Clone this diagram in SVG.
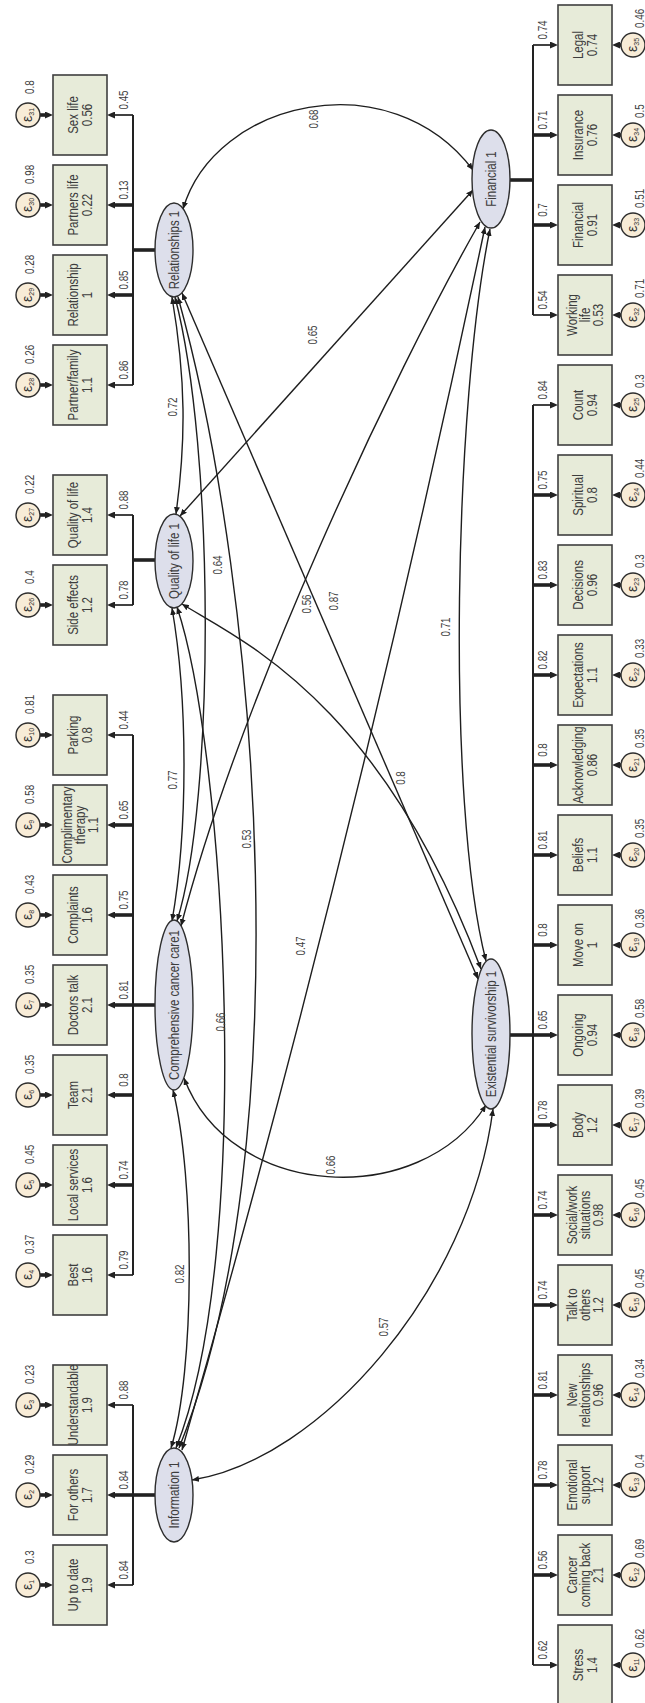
<svg xmlns="http://www.w3.org/2000/svg" width="645" height="1703" viewBox="0 0 645 1703">
<style>
text{font-family:"Liberation Sans",Arial,Helvetica,sans-serif;fill:#3d3d3d;text-anchor:middle}
.box{fill:#e7ebd9;stroke:#3f3f3f;stroke-width:1.6}
.lat{fill:#dddfeb;stroke:#2e2e2e;stroke-width:1.4}
.err{fill:#f8ecd7;stroke:#2e2e2e;stroke-width:1.4}
.lbl{font-size:14px}
.num{font-size:12px}
.ev{font-size:12px;text-anchor:start}
.eps{font-size:14px;fill:#333}
.sub{font-size:7px}
.bus{fill:none;stroke:#222;stroke-width:2}
.thin{fill:none;stroke:#222;stroke-width:1.7;marker-end:url(#ah)}
.thick{fill:none;stroke:#222;stroke-width:3.6;marker-end:url(#ah)}
.stub{fill:none;stroke:#222;stroke-width:3.6}
.cov{fill:none;stroke:#1e1e1e;stroke-width:1.4;marker-start:url(#ch);marker-end:url(#ch)}
</style>
<defs>
<marker id="ah" markerUnits="userSpaceOnUse" viewBox="0 0 8 7" markerWidth="8" markerHeight="7" refX="3" refY="3.5" orient="auto"><path d="M0,0L8,3.5L0,7Z" fill="#222"/></marker>
<marker id="ch" markerUnits="userSpaceOnUse" viewBox="0 0 7 6" markerWidth="7" markerHeight="6" refX="7" refY="3" orient="auto-start-reverse"><path d="M0,0L7,3L0,6Z" fill="#1e1e1e"/></marker>
</defs>
<rect width="645" height="1703" fill="#fff"/>

<!-- covariances between latent variables -->
<g id="covariances">
<path class="cov" d="M183,209C215,100 390,60 473,170"/>
<path class="cov" d="M172,297C186,380 186,440 176,514"/>
<path class="cov" d="M175,297C215,450 215,800 177,921"/>
<path class="cov" d="M178,297C262,600 300,1150 179,1448"/>
<path class="cov" d="M182,293L478,979"/>
<path class="cov" d="M180,516L473,190"/>
<path class="cov" d="M172,608C188,700 188,830 172,921"/>
<path class="cov" d="M177,607C225,750 255,1250 176,1448"/>
<path class="cov" d="M182,604C240,640 380,700 481,969"/>
<path class="cov" d="M181,926C240,700 390,380 480,222"/>
<path class="cov" d="M173,1090C195,1180 195,1370 171,1448"/>
<path class="cov" d="M184,1078C230,1200 420,1210 486,1105"/>
<path class="cov" d="M182,1450C300,1040 400,630 485,227"/>
<path class="cov" d="M192,1480C320,1460 470,1290 493,1109"/>
<path class="cov" d="M490,229C455,400 445,800 486,961"/>
<g class="num">
<text transform="translate(313,119) rotate(-90) scale(.82,1)" y="4.5">0.68</text>
<text transform="translate(312,335) rotate(-90) scale(.82,1)" y="4.5">0.65</text>
<text transform="translate(172,407) rotate(-90) scale(.82,1)" y="4.5">0.72</text>
<text transform="translate(217,565) rotate(-90) scale(.82,1)" y="4.5">0.64</text>
<text transform="translate(306,604) rotate(-90) scale(.82,1)" y="4.5">0.56</text>
<text transform="translate(333,601) rotate(-90) scale(.82,1)" y="4.5">0.87</text>
<text transform="translate(445,627) rotate(-90) scale(.82,1)" y="4.5">0.71</text>
<text transform="translate(172,780) rotate(-90) scale(.82,1)" y="4.5">0.77</text>
<text transform="translate(400,778) rotate(-90) scale(.82,1)" y="4.5">0.8</text>
<text transform="translate(246,839) rotate(-90) scale(.82,1)" y="4.5">0.53</text>
<text transform="translate(300,946) rotate(-90) scale(.82,1)" y="4.5">0.47</text>
<text transform="translate(220,1022) rotate(-90) scale(.82,1)" y="4.5">0.66</text>
<text transform="translate(330,1165) rotate(-90) scale(.82,1)" y="4.5">0.66</text>
<text transform="translate(179,1274) rotate(-90) scale(.82,1)" y="4.5">0.82</text>
<text transform="translate(383,1327) rotate(-90) scale(.82,1)" y="4.5">0.57</text>
</g>
</g>

<!-- measurement paths: latent to indicators, errors to indicators -->
<g id="loadings">
<path class="stub" d="M155,250H132"/>
<path class="bus" d="M133,115V385"/>
<path class="thin" d="M133,115H112"/>
<path class="thick" d="M133,205H112"/>
<path class="thick" d="M133,295H112"/>
<path class="thin" d="M133,385H112"/>

<path class="stub" d="M155,560H132"/>
<path class="bus" d="M133,515V605"/>
<path class="thin" d="M133,515H112"/>
<path class="thin" d="M133,605H112"/>

<path class="stub" d="M155,1005H132"/>
<path class="bus" d="M133,735V1275"/>
<path class="thin" d="M133,735H112"/>
<path class="thick" d="M133,825H112"/>
<path class="thick" d="M133,915H112"/>
<path class="thick" d="M133,1005H112"/>
<path class="thick" d="M133,1095H112"/>
<path class="thick" d="M133,1185H112"/>
<path class="thin" d="M133,1275H112"/>

<path class="stub" d="M155,1495H132"/>
<path class="bus" d="M133,1405V1585"/>
<path class="thin" d="M133,1405H112"/>
<path class="thick" d="M133,1495H112"/>
<path class="thin" d="M133,1585H112"/>

<path class="stub" d="M510,180H534"/>
<path class="bus" d="M533,45V315"/>
<path class="thin" d="M533,45H553"/>
<path class="thick" d="M533,135H553"/>
<path class="thick" d="M533,225H553"/>
<path class="thin" d="M533,315H553"/>

<path class="stub" d="M510,1035H534"/>
<path class="bus" d="M533,405V1665"/>
<path class="thin" d="M533,405H553"/>
<path class="thick" d="M533,495H553"/>
<path class="thick" d="M533,585H553"/>
<path class="thick" d="M533,675H553"/>
<path class="thick" d="M533,765H553"/>
<path class="thick" d="M533,855H553"/>
<path class="thick" d="M533,945H553"/>
<path class="thick" d="M533,1035H553"/>
<path class="thick" d="M533,1125H553"/>
<path class="thick" d="M533,1215H553"/>
<path class="thick" d="M533,1305H553"/>
<path class="thick" d="M533,1395H553"/>
<path class="thick" d="M533,1485H553"/>
<path class="thick" d="M533,1575H553"/>
<path class="thin" d="M533,1665H553"/>

<!-- error arrows, left column -->
<path class="thick" d="M40,115H48"/><path class="thick" d="M40,205H48"/><path class="thick" d="M40,295H48"/><path class="thick" d="M40,385H48"/>
<path class="thick" d="M40,515H48"/><path class="thick" d="M40,605H48"/>
<path class="thick" d="M40,735H48"/><path class="thick" d="M40,825H48"/><path class="thick" d="M40,915H48"/><path class="thick" d="M40,1005H48"/><path class="thick" d="M40,1095H48"/><path class="thick" d="M40,1185H48"/><path class="thick" d="M40,1275H48"/>
<path class="thick" d="M40,1405H48"/><path class="thick" d="M40,1495H48"/><path class="thick" d="M40,1585H48"/>
<!-- error arrows, right column -->
<path class="thick" d="M621,45H617"/><path class="thick" d="M621,135H617"/><path class="thick" d="M621,225H617"/><path class="thick" d="M621,315H617"/>
<path class="thick" d="M621,405H617"/><path class="thick" d="M621,495H617"/><path class="thick" d="M621,585H617"/><path class="thick" d="M621,675H617"/>
<path class="thick" d="M621,765H617"/><path class="thick" d="M621,855H617"/><path class="thick" d="M621,945H617"/><path class="thick" d="M621,1035H617"/>
<path class="thick" d="M621,1125H617"/><path class="thick" d="M621,1215H617"/><path class="thick" d="M621,1305H617"/><path class="thick" d="M621,1395H617"/>
<path class="thick" d="M621,1485H617"/><path class="thick" d="M621,1575H617"/><path class="thick" d="M621,1665H617"/>

<g class="num">
<text transform="translate(123,100) rotate(-90) scale(.82,1)" y="4.5">0.45</text>
<text transform="translate(123,190) rotate(-90) scale(.82,1)" y="4.5">0.13</text>
<text transform="translate(123,280) rotate(-90) scale(.82,1)" y="4.5">0.85</text>
<text transform="translate(123,370) rotate(-90) scale(.82,1)" y="4.5">0.86</text>
<text transform="translate(123,500) rotate(-90) scale(.82,1)" y="4.5">0.88</text>
<text transform="translate(123,590) rotate(-90) scale(.82,1)" y="4.5">0.78</text>
<text transform="translate(123,720) rotate(-90) scale(.82,1)" y="4.5">0.44</text>
<text transform="translate(123,810) rotate(-90) scale(.82,1)" y="4.5">0.65</text>
<text transform="translate(123,900) rotate(-90) scale(.82,1)" y="4.5">0.75</text>
<text transform="translate(123,990) rotate(-90) scale(.82,1)" y="4.5">0.81</text>
<text transform="translate(123,1080) rotate(-90) scale(.82,1)" y="4.5">0.8</text>
<text transform="translate(123,1170) rotate(-90) scale(.82,1)" y="4.5">0.74</text>
<text transform="translate(123,1260) rotate(-90) scale(.82,1)" y="4.5">0.79</text>
<text transform="translate(123,1390) rotate(-90) scale(.82,1)" y="4.5">0.88</text>
<text transform="translate(123,1480) rotate(-90) scale(.82,1)" y="4.5">0.84</text>
<text transform="translate(123,1570) rotate(-90) scale(.82,1)" y="4.5">0.84</text>

<text transform="translate(542,30) rotate(-90) scale(.82,1)" y="4.5">0.74</text>
<text transform="translate(542,120) rotate(-90) scale(.82,1)" y="4.5">0.71</text>
<text transform="translate(542,210) rotate(-90) scale(.82,1)" y="4.5">0.7</text>
<text transform="translate(542,300) rotate(-90) scale(.82,1)" y="4.5">0.54</text>
<text transform="translate(542,390) rotate(-90) scale(.82,1)" y="4.5">0.84</text>
<text transform="translate(542,480) rotate(-90) scale(.82,1)" y="4.5">0.75</text>
<text transform="translate(542,570) rotate(-90) scale(.82,1)" y="4.5">0.83</text>
<text transform="translate(542,660) rotate(-90) scale(.82,1)" y="4.5">0.82</text>
<text transform="translate(542,750) rotate(-90) scale(.82,1)" y="4.5">0.8</text>
<text transform="translate(542,840) rotate(-90) scale(.82,1)" y="4.5">0.81</text>
<text transform="translate(542,930) rotate(-90) scale(.82,1)" y="4.5">0.8</text>
<text transform="translate(542,1020) rotate(-90) scale(.82,1)" y="4.5">0.65</text>
<text transform="translate(542,1110) rotate(-90) scale(.82,1)" y="4.5">0.78</text>
<text transform="translate(542,1200) rotate(-90) scale(.82,1)" y="4.5">0.74</text>
<text transform="translate(542,1290) rotate(-90) scale(.82,1)" y="4.5">0.74</text>
<text transform="translate(542,1380) rotate(-90) scale(.82,1)" y="4.5">0.81</text>
<text transform="translate(542,1470) rotate(-90) scale(.82,1)" y="4.5">0.78</text>
<text transform="translate(542,1560) rotate(-90) scale(.82,1)" y="4.5">0.56</text>
<text transform="translate(542,1650) rotate(-90) scale(.82,1)" y="4.5">0.62</text>
</g>
</g>

<!-- latent variables -->
<g id="lat-relationships"><ellipse class="lat" cx="174" cy="250" rx="19" ry="47"/><text class="lbl" transform="translate(174,250) rotate(-90) scale(.82,1)" y="5">Relationships 1</text></g>
<g id="lat-quality"><ellipse class="lat" cx="174" cy="561" rx="19" ry="47"/><text class="lbl" transform="translate(174,561) rotate(-90) scale(.82,1)" y="5">Quality of life 1</text></g>
<g id="lat-comprehensive"><ellipse class="lat" cx="174" cy="1005" rx="19" ry="85"/><text class="lbl" transform="translate(174,1005) rotate(-90) scale(.82,1)" y="5">Comprehensive cancer care1</text></g>
<g id="lat-information"><ellipse class="lat" cx="174" cy="1495" rx="19" ry="47"/><text class="lbl" transform="translate(174,1495) rotate(-90) scale(.82,1)" y="5">Information 1</text></g>
<g id="lat-financial"><ellipse class="lat" cx="491" cy="179" rx="19" ry="49"/><text class="lbl" transform="translate(491,179) rotate(-90) scale(.82,1)" y="5">Financial 1</text></g>
<g id="lat-existential"><ellipse class="lat" cx="491" cy="1034" rx="19" ry="75"/><text class="lbl" transform="translate(491,1034) rotate(-90) scale(.82,1)" y="5">Existential survivorship 1</text></g>

<!-- observed indicators, left column -->
<g id="ind-sexlife"><rect class="box" x="53" y="75" width="54" height="80"/><text class="lbl" transform="translate(80,115) rotate(-90) scale(.82,1)"><tspan x="0" y="-2">Sex life</tspan><tspan x="0" y="12">0.56</tspan></text></g>
<g id="ind-partnerslife"><rect class="box" x="53" y="165" width="54" height="80"/><text class="lbl" transform="translate(80,205) rotate(-90) scale(.82,1)"><tspan x="0" y="-2">Partners life</tspan><tspan x="0" y="12">0.22</tspan></text></g>
<g id="ind-relationship"><rect class="box" x="53" y="255" width="54" height="80"/><text class="lbl" transform="translate(80,295) rotate(-90) scale(.82,1)"><tspan x="0" y="-2">Relationship</tspan><tspan x="0" y="12">1</tspan></text></g>
<g id="ind-partnerfamily"><rect class="box" x="53" y="345" width="54" height="80"/><text class="lbl" transform="translate(80,385) rotate(-90) scale(.82,1)"><tspan x="0" y="-2">Partner/family</tspan><tspan x="0" y="12">1.1</tspan></text></g>
<g id="ind-qualityoflife"><rect class="box" x="53" y="475" width="54" height="80"/><text class="lbl" transform="translate(80,515) rotate(-90) scale(.82,1)"><tspan x="0" y="-2">Quality of life</tspan><tspan x="0" y="12">1.4</tspan></text></g>
<g id="ind-sideeffects"><rect class="box" x="53" y="565" width="54" height="80"/><text class="lbl" transform="translate(80,605) rotate(-90) scale(.82,1)"><tspan x="0" y="-2">Side effects</tspan><tspan x="0" y="12">1.2</tspan></text></g>
<g id="ind-parking"><rect class="box" x="53" y="695" width="54" height="80"/><text class="lbl" transform="translate(80,735) rotate(-90) scale(.82,1)"><tspan x="0" y="-2">Parking</tspan><tspan x="0" y="12">0.8</tspan></text></g>
<g id="ind-complimentary"><rect class="box" x="53" y="785" width="54" height="80"/><text class="lbl" transform="translate(80,825) rotate(-90) scale(.82,1)"><tspan x="0" y="-8">Complimentary</tspan><tspan x="0" y="5">therapy</tspan><tspan x="0" y="18">1.1</tspan></text></g>
<g id="ind-complaints"><rect class="box" x="53" y="875" width="54" height="80"/><text class="lbl" transform="translate(80,915) rotate(-90) scale(.82,1)"><tspan x="0" y="-2">Complaints</tspan><tspan x="0" y="12">1.6</tspan></text></g>
<g id="ind-doctorstalk"><rect class="box" x="53" y="965" width="54" height="80"/><text class="lbl" transform="translate(80,1005) rotate(-90) scale(.82,1)"><tspan x="0" y="-2">Doctors talk</tspan><tspan x="0" y="12">2.1</tspan></text></g>
<g id="ind-team"><rect class="box" x="53" y="1055" width="54" height="80"/><text class="lbl" transform="translate(80,1095) rotate(-90) scale(.82,1)"><tspan x="0" y="-2">Team</tspan><tspan x="0" y="12">2.1</tspan></text></g>
<g id="ind-localservices"><rect class="box" x="53" y="1145" width="54" height="80"/><text class="lbl" transform="translate(80,1185) rotate(-90) scale(.82,1)"><tspan x="0" y="-2">Local services</tspan><tspan x="0" y="12">1.6</tspan></text></g>
<g id="ind-best"><rect class="box" x="53" y="1235" width="54" height="80"/><text class="lbl" transform="translate(80,1275) rotate(-90) scale(.82,1)"><tspan x="0" y="-2">Best</tspan><tspan x="0" y="12">1.6</tspan></text></g>
<g id="ind-understandable"><rect class="box" x="53" y="1365" width="54" height="80"/><text class="lbl" transform="translate(80,1405) rotate(-90) scale(.82,1)"><tspan x="0" y="-2">Understandable</tspan><tspan x="0" y="12">1.9</tspan></text></g>
<g id="ind-forothers"><rect class="box" x="53" y="1455" width="54" height="80"/><text class="lbl" transform="translate(80,1495) rotate(-90) scale(.82,1)"><tspan x="0" y="-2">For others</tspan><tspan x="0" y="12">1.7</tspan></text></g>
<g id="ind-uptodate"><rect class="box" x="53" y="1545" width="54" height="80"/><text class="lbl" transform="translate(80,1585) rotate(-90) scale(.82,1)"><tspan x="0" y="-2">Up to date</tspan><tspan x="0" y="12">1.9</tspan></text></g>

<!-- observed indicators, right column -->
<g id="ind-legal"><rect class="box" x="558" y="5" width="54" height="80"/><text class="lbl" transform="translate(585,45) rotate(-90) scale(.82,1)"><tspan x="0" y="-2">Legal</tspan><tspan x="0" y="12">0.74</tspan></text></g>
<g id="ind-insurance"><rect class="box" x="558" y="95" width="54" height="80"/><text class="lbl" transform="translate(585,135) rotate(-90) scale(.82,1)"><tspan x="0" y="-2">Insurance</tspan><tspan x="0" y="12">0.76</tspan></text></g>
<g id="ind-financial"><rect class="box" x="558" y="185" width="54" height="80"/><text class="lbl" transform="translate(585,225) rotate(-90) scale(.82,1)"><tspan x="0" y="-2">Financial</tspan><tspan x="0" y="12">0.91</tspan></text></g>
<g id="ind-workinglife"><rect class="box" x="558" y="275" width="54" height="80"/><text class="lbl" transform="translate(585,315) rotate(-90) scale(.82,1)"><tspan x="0" y="-8">Working</tspan><tspan x="0" y="5">life</tspan><tspan x="0" y="18">0.53</tspan></text></g>
<g id="ind-count"><rect class="box" x="558" y="365" width="54" height="80"/><text class="lbl" transform="translate(585,405) rotate(-90) scale(.82,1)"><tspan x="0" y="-2">Count</tspan><tspan x="0" y="12">0.94</tspan></text></g>
<g id="ind-spiritual"><rect class="box" x="558" y="455" width="54" height="80"/><text class="lbl" transform="translate(585,495) rotate(-90) scale(.82,1)"><tspan x="0" y="-2">Spiritual</tspan><tspan x="0" y="12">0.8</tspan></text></g>
<g id="ind-decisions"><rect class="box" x="558" y="545" width="54" height="80"/><text class="lbl" transform="translate(585,585) rotate(-90) scale(.82,1)"><tspan x="0" y="-2">Decisions</tspan><tspan x="0" y="12">0.96</tspan></text></g>
<g id="ind-expectations"><rect class="box" x="558" y="635" width="54" height="80"/><text class="lbl" transform="translate(585,675) rotate(-90) scale(.82,1)"><tspan x="0" y="-2">Expectations</tspan><tspan x="0" y="12">1.1</tspan></text></g>
<g id="ind-acknowledging"><rect class="box" x="558" y="725" width="54" height="80"/><text class="lbl" transform="translate(585,765) rotate(-90) scale(.82,1)"><tspan x="0" y="-2">Acknowledging</tspan><tspan x="0" y="12">0.86</tspan></text></g>
<g id="ind-beliefs"><rect class="box" x="558" y="815" width="54" height="80"/><text class="lbl" transform="translate(585,855) rotate(-90) scale(.82,1)"><tspan x="0" y="-2">Beliefs</tspan><tspan x="0" y="12">1.1</tspan></text></g>
<g id="ind-moveon"><rect class="box" x="558" y="905" width="54" height="80"/><text class="lbl" transform="translate(585,945) rotate(-90) scale(.82,1)"><tspan x="0" y="-2">Move on</tspan><tspan x="0" y="12">1</tspan></text></g>
<g id="ind-ongoing"><rect class="box" x="558" y="995" width="54" height="80"/><text class="lbl" transform="translate(585,1035) rotate(-90) scale(.82,1)"><tspan x="0" y="-2">Ongoing</tspan><tspan x="0" y="12">0.94</tspan></text></g>
<g id="ind-body"><rect class="box" x="558" y="1085" width="54" height="80"/><text class="lbl" transform="translate(585,1125) rotate(-90) scale(.82,1)"><tspan x="0" y="-2">Body</tspan><tspan x="0" y="12">1.2</tspan></text></g>
<g id="ind-socialwork"><rect class="box" x="558" y="1175" width="54" height="80"/><text class="lbl" transform="translate(585,1215) rotate(-90) scale(.82,1)"><tspan x="0" y="-8">Social/work</tspan><tspan x="0" y="5">situations</tspan><tspan x="0" y="18">0.98</tspan></text></g>
<g id="ind-talktoothers"><rect class="box" x="558" y="1265" width="54" height="80"/><text class="lbl" transform="translate(585,1305) rotate(-90) scale(.82,1)"><tspan x="0" y="-8">Talk to</tspan><tspan x="0" y="5">others</tspan><tspan x="0" y="18">1.2</tspan></text></g>
<g id="ind-newrelationships"><rect class="box" x="558" y="1355" width="54" height="80"/><text class="lbl" transform="translate(585,1395) rotate(-90) scale(.82,1)"><tspan x="0" y="-8">New</tspan><tspan x="0" y="5">relationships</tspan><tspan x="0" y="18">0.96</tspan></text></g>
<g id="ind-emotionalsupport"><rect class="box" x="558" y="1445" width="54" height="80"/><text class="lbl" transform="translate(585,1485) rotate(-90) scale(.82,1)"><tspan x="0" y="-8">Emotional</tspan><tspan x="0" y="5">support</tspan><tspan x="0" y="18">1.2</tspan></text></g>
<g id="ind-cancercomingback"><rect class="box" x="558" y="1535" width="54" height="80"/><text class="lbl" transform="translate(585,1575) rotate(-90) scale(.82,1)"><tspan x="0" y="-8">Cancer</tspan><tspan x="0" y="5">coming back</tspan><tspan x="0" y="18">2.1</tspan></text></g>
<g id="ind-stress"><rect class="box" x="558" y="1625" width="54" height="80"/><text class="lbl" transform="translate(585,1665) rotate(-90) scale(.82,1)"><tspan x="0" y="-2">Stress</tspan><tspan x="0" y="12">1.4</tspan></text></g>

<!-- error terms, left column -->
<g id="e31"><circle class="err" cx="28" cy="115" r="12"/><text class="eps" transform="translate(28,115) rotate(-90)" y="4">ε<tspan class="sub" dy="2">31</tspan></text><text class="ev" transform="translate(29,94) rotate(-90) scale(.82,1)" y="4.5">0.8</text></g>
<g id="e30"><circle class="err" cx="28" cy="205" r="12"/><text class="eps" transform="translate(28,205) rotate(-90)" y="4">ε<tspan class="sub" dy="2">30</tspan></text><text class="ev" transform="translate(29,184) rotate(-90) scale(.82,1)" y="4.5">0.98</text></g>
<g id="e29"><circle class="err" cx="28" cy="295" r="12"/><text class="eps" transform="translate(28,295) rotate(-90)" y="4">ε<tspan class="sub" dy="2">29</tspan></text><text class="ev" transform="translate(29,274) rotate(-90) scale(.82,1)" y="4.5">0.28</text></g>
<g id="e28"><circle class="err" cx="28" cy="385" r="12"/><text class="eps" transform="translate(28,385) rotate(-90)" y="4">ε<tspan class="sub" dy="2">28</tspan></text><text class="ev" transform="translate(29,364) rotate(-90) scale(.82,1)" y="4.5">0.26</text></g>
<g id="e27"><circle class="err" cx="28" cy="515" r="12"/><text class="eps" transform="translate(28,515) rotate(-90)" y="4">ε<tspan class="sub" dy="2">27</tspan></text><text class="ev" transform="translate(29,494) rotate(-90) scale(.82,1)" y="4.5">0.22</text></g>
<g id="e26"><circle class="err" cx="28" cy="605" r="12"/><text class="eps" transform="translate(28,605) rotate(-90)" y="4">ε<tspan class="sub" dy="2">26</tspan></text><text class="ev" transform="translate(29,584) rotate(-90) scale(.82,1)" y="4.5">0.4</text></g>
<g id="e10"><circle class="err" cx="28" cy="735" r="12"/><text class="eps" transform="translate(28,735) rotate(-90)" y="4">ε<tspan class="sub" dy="2">10</tspan></text><text class="ev" transform="translate(29,714) rotate(-90) scale(.82,1)" y="4.5">0.81</text></g>
<g id="e9"><circle class="err" cx="28" cy="825" r="12"/><text class="eps" transform="translate(28,825) rotate(-90)" y="4">ε<tspan class="sub" dy="2">9</tspan></text><text class="ev" transform="translate(29,804) rotate(-90) scale(.82,1)" y="4.5">0.58</text></g>
<g id="e8"><circle class="err" cx="28" cy="915" r="12"/><text class="eps" transform="translate(28,915) rotate(-90)" y="4">ε<tspan class="sub" dy="2">8</tspan></text><text class="ev" transform="translate(29,894) rotate(-90) scale(.82,1)" y="4.5">0.43</text></g>
<g id="e7"><circle class="err" cx="28" cy="1005" r="12"/><text class="eps" transform="translate(28,1005) rotate(-90)" y="4">ε<tspan class="sub" dy="2">7</tspan></text><text class="ev" transform="translate(29,984) rotate(-90) scale(.82,1)" y="4.5">0.35</text></g>
<g id="e6"><circle class="err" cx="28" cy="1095" r="12"/><text class="eps" transform="translate(28,1095) rotate(-90)" y="4">ε<tspan class="sub" dy="2">6</tspan></text><text class="ev" transform="translate(29,1074) rotate(-90) scale(.82,1)" y="4.5">0.35</text></g>
<g id="e5"><circle class="err" cx="28" cy="1185" r="12"/><text class="eps" transform="translate(28,1185) rotate(-90)" y="4">ε<tspan class="sub" dy="2">5</tspan></text><text class="ev" transform="translate(29,1164) rotate(-90) scale(.82,1)" y="4.5">0.45</text></g>
<g id="e4"><circle class="err" cx="28" cy="1275" r="12"/><text class="eps" transform="translate(28,1275) rotate(-90)" y="4">ε<tspan class="sub" dy="2">4</tspan></text><text class="ev" transform="translate(29,1254) rotate(-90) scale(.82,1)" y="4.5">0.37</text></g>
<g id="e3"><circle class="err" cx="28" cy="1405" r="12"/><text class="eps" transform="translate(28,1405) rotate(-90)" y="4">ε<tspan class="sub" dy="2">3</tspan></text><text class="ev" transform="translate(29,1384) rotate(-90) scale(.82,1)" y="4.5">0.23</text></g>
<g id="e2"><circle class="err" cx="28" cy="1495" r="12"/><text class="eps" transform="translate(28,1495) rotate(-90)" y="4">ε<tspan class="sub" dy="2">2</tspan></text><text class="ev" transform="translate(29,1474) rotate(-90) scale(.82,1)" y="4.5">0.29</text></g>
<g id="e1"><circle class="err" cx="28" cy="1585" r="12"/><text class="eps" transform="translate(28,1585) rotate(-90)" y="4">ε<tspan class="sub" dy="2">1</tspan></text><text class="ev" transform="translate(29,1564) rotate(-90) scale(.82,1)" y="4.5">0.3</text></g>

<!-- error terms, right column -->
<g id="e35"><circle class="err" cx="633" cy="45" r="12"/><text class="eps" transform="translate(633,45) rotate(-90)" y="4">ε<tspan class="sub" dy="2">35</tspan></text><text class="ev" transform="translate(639,28) rotate(-90) scale(.82,1)" y="4.5">0.46</text></g>
<g id="e34"><circle class="err" cx="633" cy="135" r="12"/><text class="eps" transform="translate(633,135) rotate(-90)" y="4">ε<tspan class="sub" dy="2">34</tspan></text><text class="ev" transform="translate(639,118) rotate(-90) scale(.82,1)" y="4.5">0.5</text></g>
<g id="e33"><circle class="err" cx="633" cy="225" r="12"/><text class="eps" transform="translate(633,225) rotate(-90)" y="4">ε<tspan class="sub" dy="2">33</tspan></text><text class="ev" transform="translate(639,208) rotate(-90) scale(.82,1)" y="4.5">0.51</text></g>
<g id="e32"><circle class="err" cx="633" cy="315" r="12"/><text class="eps" transform="translate(633,315) rotate(-90)" y="4">ε<tspan class="sub" dy="2">32</tspan></text><text class="ev" transform="translate(639,298) rotate(-90) scale(.82,1)" y="4.5">0.71</text></g>
<g id="e25"><circle class="err" cx="633" cy="405" r="12"/><text class="eps" transform="translate(633,405) rotate(-90)" y="4">ε<tspan class="sub" dy="2">25</tspan></text><text class="ev" transform="translate(639,388) rotate(-90) scale(.82,1)" y="4.5">0.3</text></g>
<g id="e24"><circle class="err" cx="633" cy="495" r="12"/><text class="eps" transform="translate(633,495) rotate(-90)" y="4">ε<tspan class="sub" dy="2">24</tspan></text><text class="ev" transform="translate(639,478) rotate(-90) scale(.82,1)" y="4.5">0.44</text></g>
<g id="e23"><circle class="err" cx="633" cy="585" r="12"/><text class="eps" transform="translate(633,585) rotate(-90)" y="4">ε<tspan class="sub" dy="2">23</tspan></text><text class="ev" transform="translate(639,568) rotate(-90) scale(.82,1)" y="4.5">0.3</text></g>
<g id="e22"><circle class="err" cx="633" cy="675" r="12"/><text class="eps" transform="translate(633,675) rotate(-90)" y="4">ε<tspan class="sub" dy="2">22</tspan></text><text class="ev" transform="translate(639,658) rotate(-90) scale(.82,1)" y="4.5">0.33</text></g>
<g id="e21"><circle class="err" cx="633" cy="765" r="12"/><text class="eps" transform="translate(633,765) rotate(-90)" y="4">ε<tspan class="sub" dy="2">21</tspan></text><text class="ev" transform="translate(639,748) rotate(-90) scale(.82,1)" y="4.5">0.35</text></g>
<g id="e20"><circle class="err" cx="633" cy="855" r="12"/><text class="eps" transform="translate(633,855) rotate(-90)" y="4">ε<tspan class="sub" dy="2">20</tspan></text><text class="ev" transform="translate(639,838) rotate(-90) scale(.82,1)" y="4.5">0.35</text></g>
<g id="e19"><circle class="err" cx="633" cy="945" r="12"/><text class="eps" transform="translate(633,945) rotate(-90)" y="4">ε<tspan class="sub" dy="2">19</tspan></text><text class="ev" transform="translate(639,928) rotate(-90) scale(.82,1)" y="4.5">0.36</text></g>
<g id="e18"><circle class="err" cx="633" cy="1035" r="12"/><text class="eps" transform="translate(633,1035) rotate(-90)" y="4">ε<tspan class="sub" dy="2">18</tspan></text><text class="ev" transform="translate(639,1018) rotate(-90) scale(.82,1)" y="4.5">0.58</text></g>
<g id="e17"><circle class="err" cx="633" cy="1125" r="12"/><text class="eps" transform="translate(633,1125) rotate(-90)" y="4">ε<tspan class="sub" dy="2">17</tspan></text><text class="ev" transform="translate(639,1108) rotate(-90) scale(.82,1)" y="4.5">0.39</text></g>
<g id="e16"><circle class="err" cx="633" cy="1215" r="12"/><text class="eps" transform="translate(633,1215) rotate(-90)" y="4">ε<tspan class="sub" dy="2">16</tspan></text><text class="ev" transform="translate(639,1198) rotate(-90) scale(.82,1)" y="4.5">0.45</text></g>
<g id="e15"><circle class="err" cx="633" cy="1305" r="12"/><text class="eps" transform="translate(633,1305) rotate(-90)" y="4">ε<tspan class="sub" dy="2">15</tspan></text><text class="ev" transform="translate(639,1288) rotate(-90) scale(.82,1)" y="4.5">0.45</text></g>
<g id="e14"><circle class="err" cx="633" cy="1395" r="12"/><text class="eps" transform="translate(633,1395) rotate(-90)" y="4">ε<tspan class="sub" dy="2">14</tspan></text><text class="ev" transform="translate(639,1378) rotate(-90) scale(.82,1)" y="4.5">0.34</text></g>
<g id="e13"><circle class="err" cx="633" cy="1485" r="12"/><text class="eps" transform="translate(633,1485) rotate(-90)" y="4">ε<tspan class="sub" dy="2">13</tspan></text><text class="ev" transform="translate(639,1468) rotate(-90) scale(.82,1)" y="4.5">0.4</text></g>
<g id="e12"><circle class="err" cx="633" cy="1575" r="12"/><text class="eps" transform="translate(633,1575) rotate(-90)" y="4">ε<tspan class="sub" dy="2">12</tspan></text><text class="ev" transform="translate(639,1558) rotate(-90) scale(.82,1)" y="4.5">0.69</text></g>
<g id="e11"><circle class="err" cx="633" cy="1665" r="12"/><text class="eps" transform="translate(633,1665) rotate(-90)" y="4">ε<tspan class="sub" dy="2">11</tspan></text><text class="ev" transform="translate(639,1648) rotate(-90) scale(.82,1)" y="4.5">0.62</text></g>
</svg>
